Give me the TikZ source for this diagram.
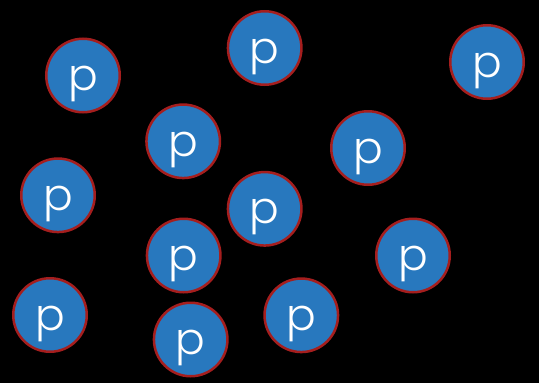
\documentclass[tikz,border=0pt]{standalone}
\usepackage{fontspec}
\setmainfont{Poppins}[UprightFont=* Light]
\definecolor{pfill}{HTML}{2878BE}
\definecolor{pedge}{HTML}{A51E1E}
\begin{document}
\begin{tikzpicture}[x=1pt,y=-1pt,
  proton/.style={circle, draw=pedge, fill=pfill, line width=2.5pt,
    minimum size=73.5pt, inner sep=0pt, text=white,
    font=\fontsize{44}{44}\selectfont, text height=30pt, text depth=0pt}]
\fill[black] (0,0) rectangle (539,383);
\useasboundingbox (0,0) rectangle (539,383);
\node[proton] (c1)  at (83,75.5)   {p};
\node[proton] (c2)  at (264.7,48)  {p};
\node[proton] (c3)  at (487,62)    {p};
\node[proton] (c4)  at (183.2,141.3) {p};
\node[proton] (c5)  at (368,148)   {p};
\node[proton] (c6)  at (58,195.3)  {p};
\node[proton] (c7)  at (264.7,208.8) {p};
\node[proton] (c8)  at (183.7,255.5) {p};
\node[proton] (c9)  at (413,255.5) {p};
\node[proton] (c10) at (50,315)    {p};
\node[proton] (c11) at (301.3,315.3) {p};
\node[proton] (c12) at (190.7,339.5) {p};
\end{tikzpicture}
\end{document}
